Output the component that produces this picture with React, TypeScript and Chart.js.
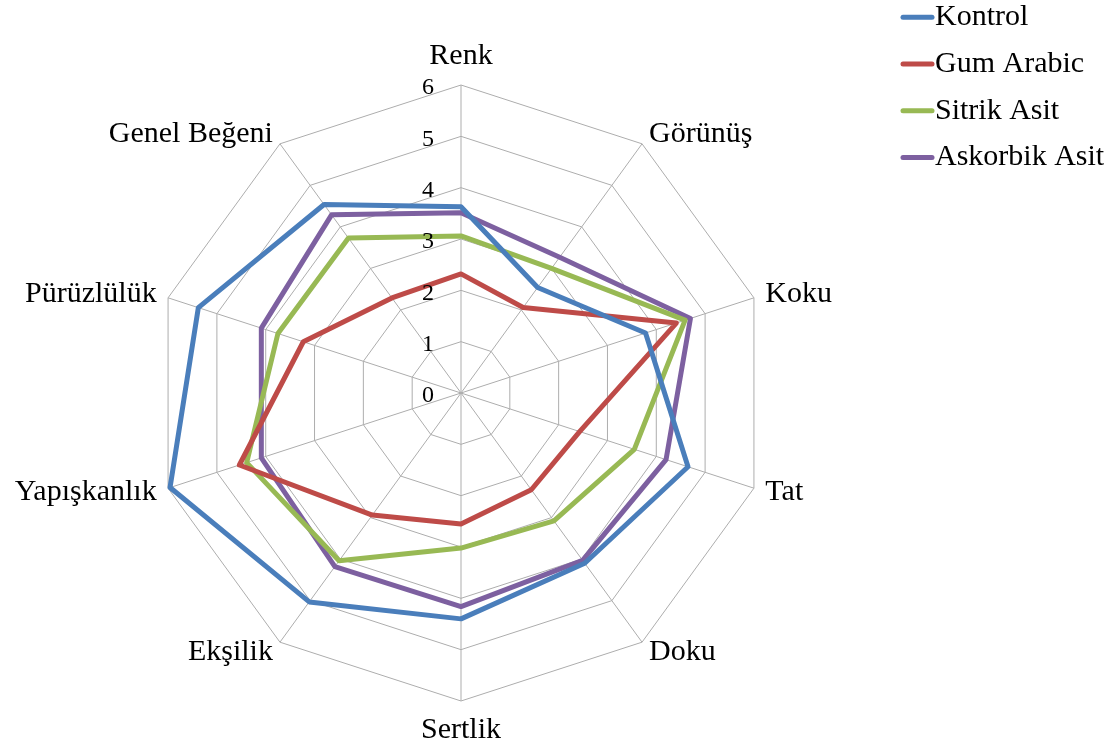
import React, { useEffect, useRef } from "react";
import { Chart, registerables } from "chart.js";

Chart.register(...registerables);

const categories = ["Renk", "Görünüş", "Koku", "Tat", "Doku", "Sertlik", "Ekşilik", "Yapışkanlık", "Pürüzlülük", "Genel Beğeni"];
const kontrol = [3.63, 2.54, 3.78, 4.65, 4.1, 4.4, 5.03, 5.96, 5.38, 4.54];
const gumArabic = [2.32, 2.06, 4.41, 2.43, 2.33, 2.55, 2.94, 4.54, 3.23, 2.29];
const sitrikAsit = [3.06, 3.0, 4.59, 3.55, 3.08, 3.02, 4.04, 4.39, 3.75, 3.73];
const askorbikAsit = [3.51, 3.27, 4.7, 4.2, 4.03, 4.16, 4.18, 4.09, 4.09, 4.29];
const seriesNames = ["Kontrol", "Gum Arabic", "Sitrik Asit", "Askorbik Asit"];
const seriesColors = ["#4A7EBB", "#BE4B48", "#98B954", "#7D60A0"];
const tickValues = [0, 1, 2, 3, 4, 5, 6];

const FONT = '"Liberation Serif", "Times New Roman", serif';

const overlayPlugin = {
  id: "overlay",
  afterDraw(chart: any) {
    const ctx = chart.ctx;
    const r = chart.scales.r;
    ctx.save();
    ctx.fillStyle = "#000";
    // tick labels
    ctx.font = `24px ${FONT}`;
    ctx.textAlign = "right";
    ctx.textBaseline = "middle";
    tickValues.forEach((v) => {
      const d = r.getDistanceFromCenterForValue(v);
      ctx.fillText(String(v), r.xCenter - 27, r.yCenter - d + 3);
    });
    // point labels
    ctx.font = `30px ${FONT}`;
    const R = r.drawingArea;
    chart.data.labels.forEach((lab: string, i: number) => {
      const p0 = r.getPointPosition(i, R);
      const dx = (p0.x - r.xCenter) / R;
      const side = Math.abs(dx) > 0.1;
      const p = r.getPointPosition(i, R + (side ? 12 : 29));
      ctx.textAlign = !side ? "center" : dx > 0 ? "left" : "right";
      ctx.textBaseline = "middle";
      ctx.fillText(lab, p.x, p.y);
    });
    // legend
    chart.data.datasets.forEach((ds: any, i: number) => {
      const y = 17.3 + i * 46.7;
      ctx.strokeStyle = ds.borderColor;
      ctx.lineWidth = 5;
      ctx.lineCap = "round";
      ctx.beginPath();
      ctx.moveTo(903, y);
      ctx.lineTo(932, y);
      ctx.stroke();
      ctx.font = `30px ${FONT}`;
      ctx.textAlign = "left";
      ctx.textBaseline = "middle";
      ctx.fillStyle = "#000";
      ctx.fillText(ds.label, 935, y);
    });
    ctx.restore();
  },
};

export default function App() {
  const ref = useRef<HTMLCanvasElement | null>(null);
  useEffect(() => {
    if (!ref.current) return;
    const series = [kontrol, gumArabic, sitrikAsit, askorbikAsit];
    const chart = new Chart(ref.current, {
      type: "radar",
      data: {
        labels: categories,
        datasets: series.map((vals, i) => ({
          label: seriesNames[i],
          data: vals,
          borderColor: seriesColors[i],
          backgroundColor: seriesColors[i],
          borderWidth: 5,
          fill: false,
          pointRadius: 0,
          pointHoverRadius: 0,
          borderJoinStyle: "round" as const,
          tension: 0,
        })),
      },
      options: {
        responsive: false,
        animation: false,
        layout: { padding: { left: 153, right: 346, top: 85, bottom: 49 } },
        plugins: { legend: { display: false }, tooltip: { enabled: false } },
        scales: {
          r: {
            min: 0,
            max: 6,
            ticks: { display: false, stepSize: 1 },
            pointLabels: { display: false },
            grid: { color: "#ADADAD", lineWidth: 1 },
            angleLines: { color: "#ADADAD", lineWidth: 1 },
          },
        },
      },
      plugins: [overlayPlugin],
    });
    return () => chart.destroy();
  }, []);
  return (
    <div style={{ position: "fixed", left: 0, top: 0, width: 1116, height: 751, background: "#fff" }}>
      <canvas ref={ref} width={1116} height={751} style={{ display: "block" }} />
    </div>
  );
}
